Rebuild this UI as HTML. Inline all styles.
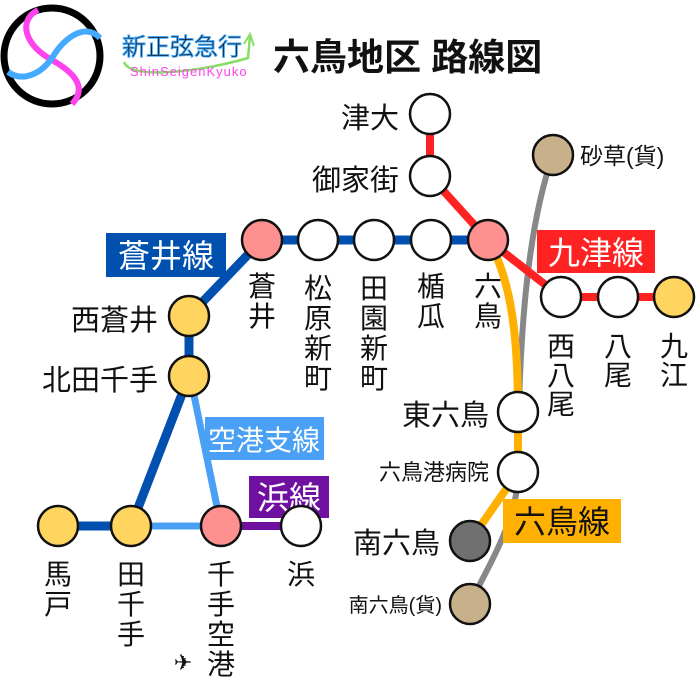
<!DOCTYPE html>
<html><head><meta charset="utf-8"><style>
html,body{margin:0;padding:0;background:#fff;}
svg{display:block;}
text{font-family:"Liberation Sans","Noto Sans CJK JP",sans-serif;fill:#111;}
</style></head><body>
<svg width="696" height="677" viewBox="0 0 696 677" xmlns="http://www.w3.org/2000/svg">
<!-- logo -->
<circle cx="52" cy="56" r="48" fill="#fff" stroke="#000" stroke-width="7"/>
<path d="M38,10 C18,20 24,45 52,60 C80,76 85,90 72,104" fill="none" stroke="#ff44ee" stroke-width="6"/>
<path d="M8,72 C22,82 40,75 52,58 C64,38 85,22 100,38" fill="none" stroke="#44aaff" stroke-width="6"/>
<text x="122" y="55" font-size="24" fill="#fff" stroke="#44aaff" stroke-width="1">新正弦急行</text>
<path d="M124,62 C130,80 200,72 248,58 L250,36" fill="none" stroke="#88dd66" stroke-width="2.5"/>
<path d="M244,44 L250,34 L254,46" fill="none" stroke="#88dd66" stroke-width="2"/>
<text x="130" y="76" font-size="13" style="fill:#ff44ee" letter-spacing="1">ShinSeigenKyuko</text>
<text x="273" y="70" font-size="37" font-weight="bold" fill="#111">六鳥地区 路線図</text>

<!-- lines -->
<g fill="none" stroke-linecap="round">
<path d="M553,155 C530,220 518,320 518,480 C514,530 480,580 470,604" stroke="#888" stroke-width="6"/>
<path d="M488,240 C512,280 518,340 518,412 L518,472 L470,541" stroke="#ffb000" stroke-width="8"/>
<path d="M430,114 L430,176 L488,240 L561,297 L674,297" stroke="#f22" stroke-width="8"/>
<path d="M190,376 L221,526 L131,526" stroke="#4aa0f5" stroke-width="7"/>
<path d="M221,526 L301,526" stroke="#7010a0" stroke-width="8"/>
<path d="M488,240 L262,240 L189,316 L189,376 L131,526 L58,526" stroke="#0050b0" stroke-width="9"/>
</g>

<!-- line labels -->
<rect x="106" y="233" width="120" height="44" fill="#0050b0"/>
<text x="166" y="267" font-size="32" text-anchor="middle" style="fill:#fff">蒼井線</text>
<rect x="537" y="230" width="118" height="43" fill="#f22"/>
<text x="596" y="264" font-size="32" text-anchor="middle" style="fill:#fff">九津線</text>
<rect x="205" y="417" width="119" height="43" fill="#4aa0f5"/>
<text x="264" y="450" font-size="28" text-anchor="middle" style="fill:#fff">空港支線</text>
<rect x="249" y="476" width="80" height="42" fill="#7010a0"/>
<text x="289" y="509" font-size="32" text-anchor="middle" style="fill:#fff">浜線</text>
<rect x="503" y="499" width="118" height="44" fill="#ffb000"/>
<text x="562" y="533" font-size="32" text-anchor="middle">六鳥線</text>

<!-- stations -->
<g stroke="#111" stroke-width="2.5">
<circle cx="430" cy="114" r="20" fill="#fff"/>
<circle cx="430" cy="176" r="20" fill="#fff"/>
<circle cx="262" cy="240" r="20" fill="#ff9090"/>
<circle cx="318" cy="240" r="20" fill="#fff"/>
<circle cx="374" cy="240" r="20" fill="#fff"/>
<circle cx="431" cy="240" r="20" fill="#fff"/>
<circle cx="488" cy="240" r="20" fill="#ff9090"/>
<circle cx="561" cy="297" r="20" fill="#fff"/>
<circle cx="618" cy="297" r="20" fill="#fff"/>
<circle cx="674" cy="297" r="20" fill="#ffd560"/>
<circle cx="553" cy="155" r="20" fill="#c8b08a"/>
<circle cx="518" cy="412" r="20" fill="#fff"/>
<circle cx="518" cy="472" r="20" fill="#fff"/>
<circle cx="470" cy="541" r="20" fill="#707070"/>
<circle cx="470" cy="604" r="20" fill="#c8b08a"/>
<circle cx="189" cy="316" r="20" fill="#ffd560"/>
<circle cx="189" cy="376" r="20" fill="#ffd560"/>
<circle cx="58" cy="526" r="20" fill="#ffd560"/>
<circle cx="131" cy="526" r="20" fill="#ffd560"/>
<circle cx="221" cy="526" r="20" fill="#ff9090"/>
<circle cx="301" cy="526" r="20" fill="#fff"/>
</g>

<!-- station labels -->
<g font-size="28" text-anchor="middle">
<text x="262" y="296">蒼</text><text x="262" y="326">井</text>
<text x="318" y="298">松</text><text x="318" y="328">原</text><text x="318" y="358">新</text><text x="318" y="388">町</text>
<text x="374" y="298">田</text><text x="374" y="328">園</text><text x="374" y="358">新</text><text x="374" y="388">町</text>
<text x="431" y="296">楯</text><text x="431" y="326">瓜</text>
<text x="488" y="296">六</text><text x="488" y="326">鳥</text>
<text x="561" y="356">西</text><text x="561" y="385">八</text><text x="561" y="414">尾</text>
<text x="618" y="356">八</text><text x="618" y="385">尾</text>
<text x="674" y="356">九</text><text x="674" y="385">江</text>
<text x="58" y="584">馬</text><text x="58" y="614">戸</text>
<text x="131" y="584">田</text><text x="131" y="614">千</text><text x="131" y="644">手</text>
<text x="221" y="584">千</text><text x="221" y="614">手</text><text x="221" y="644">空</text><text x="221" y="674">港</text>
<text x="301" y="584">浜</text>
</g>
<g font-size="29" text-anchor="end">
<text x="399" y="128">津大</text>
<text x="399" y="190">御家街</text>
<text x="158" y="330">西蒼井</text>
<text x="158" y="390">北田千手</text>
<text x="489" y="425">東六鳥</text>
<text x="489" y="480" font-size="22">六鳥港病院</text>
<text x="440" y="553">南六鳥</text>
<text x="442" y="612" font-size="20">南六鳥(貨)</text>
</g>
<text x="580" y="164" font-size="23">砂草(貨)</text>
<text x="183" y="670" font-size="22" text-anchor="middle">✈</text>
</svg>
</body></html>
